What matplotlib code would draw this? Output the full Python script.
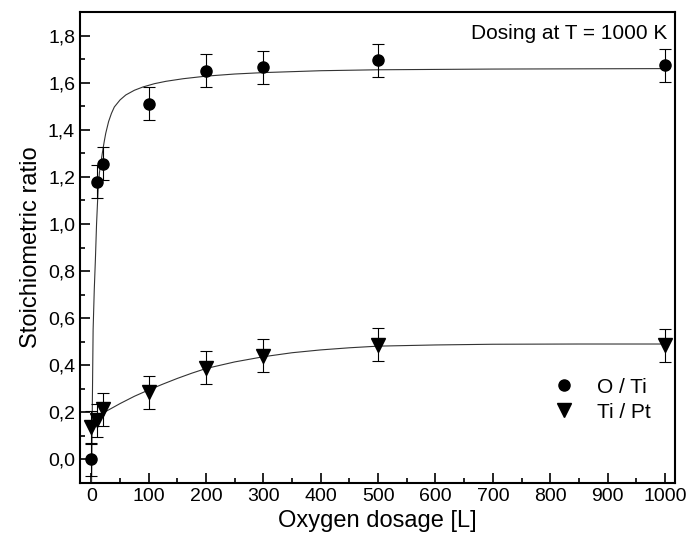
import numpy as np
import matplotlib
matplotlib.use("Agg")
import matplotlib.pyplot as plt
from matplotlib.ticker import MultipleLocator, FuncFormatter

plt.rcParams['font.family'] = ['Liberation Sans', 'DejaVu Sans']

# measured points
dose = [0, 10, 20, 100, 200, 300, 500, 1000]
o_ti = [0.0, 1.18, 1.255, 1.51, 1.65, 1.665, 1.695, 1.675]
o_ti_err = [0.07, 0.07, 0.07, 0.07, 0.07, 0.07, 0.07, 0.07]
ti_pt = [0.137, 0.167, 0.213, 0.285, 0.39, 0.44, 0.486, 0.485]
ti_pt_err = [0.07, 0.07, 0.07, 0.07, 0.07, 0.07, 0.07, 0.07]

# fit curves
fit_o_x = [0.3, 1.5, 3, 5, 7, 9, 11.7, 14, 16.5, 19, 22, 25, 30, 35, 40, 50, 60, 75, 90,
           110, 130, 160, 200, 250, 300, 400, 500, 700, 1000]
fit_o_y = [-0.1, 0.2, 0.55, 0.72, 0.85, 1.0, 1.146, 1.218, 1.26, 1.30, 1.345, 1.385, 1.435,
           1.47, 1.497, 1.527, 1.548, 1.568, 1.582, 1.596, 1.606, 1.617, 1.628, 1.637,
           1.643, 1.651, 1.655, 1.658, 1.66]
fit_t_x = [0, 15, 30, 50, 75, 100, 125, 150, 175, 200, 250, 300, 350, 400, 450, 500, 600,
           700, 850, 1000]
fit_t_y = [0.165, 0.19, 0.21, 0.237, 0.268, 0.295, 0.32, 0.344, 0.366, 0.386, 0.414, 0.436,
           0.453, 0.465, 0.474, 0.481, 0.486, 0.489, 0.49, 0.49]

fig = plt.figure(figsize=(6.89, 5.5), dpi=100)
ax = fig.add_axes([0.116, 0.122, 0.864, 0.856])

ax.plot(fit_o_x, fit_o_y, color="#333333", lw=0.8)
ax.plot(fit_t_x, fit_t_y, color="#333333", lw=0.8)

ax.errorbar(dose, o_ti, yerr=o_ti_err, fmt="o", color="black", ms=8,
            ecolor="black", elinewidth=0.8, capsize=4, capthick=0.8, label="O / Ti")
ax.errorbar(dose, ti_pt, yerr=ti_pt_err, fmt="v", color="black", ms=9.5,
            ecolor="black", elinewidth=0.8, capsize=4, capthick=0.8, label="Ti / Pt")

ax.set_xlim(-20, 1018)
ax.set_ylim(-0.1, 1.9)
ax.xaxis.set_major_locator(MultipleLocator(100))
ax.xaxis.set_minor_locator(MultipleLocator(50))
ax.yaxis.set_major_locator(MultipleLocator(0.2))
ax.yaxis.set_minor_locator(MultipleLocator(0.1))
ax.yaxis.set_major_formatter(FuncFormatter(lambda v, p: f"{v:.1f}".replace(".", ",")))
ax.tick_params(which="both", direction="in", top=False, right=False, width=1.2, labelsize=14)
ax.tick_params(which="major", length=7)
ax.tick_params(which="minor", length=3.5)
for s in ax.spines.values():
    s.set_linewidth(1.5)

ax.set_xlabel("Oxygen dosage [L]", fontsize=17)
ax.set_ylabel("Stoichiometric ratio", fontsize=17)
ax.text(0.986, 0.975, "Dosing at T = 1000 K", transform=ax.transAxes,
        ha="right", va="top", fontsize=15)

handles, labels = ax.get_legend_handles_labels()
handles = [h[0] for h in handles]
ax.legend(handles, labels, loc="lower right", frameon=False, fontsize=15,
          bbox_to_anchor=(0.99, 0.09), handletextpad=0.8, handlelength=1.5,
          labelspacing=0.3)

fig.savefig("out.png", dpi=100)
